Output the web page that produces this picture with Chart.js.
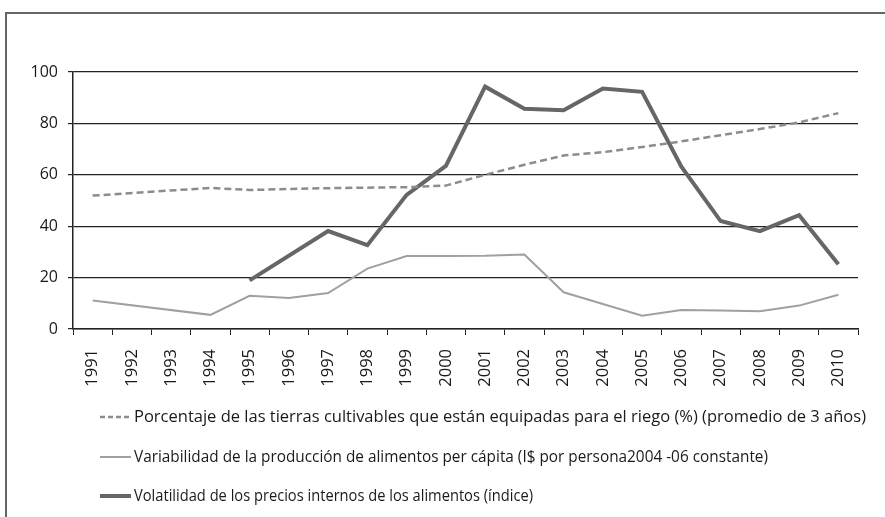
<!DOCTYPE html>
<html>
<head>
<meta charset="utf-8">
<script src="https://cdn.jsdelivr.net/npm/chart.js@4/dist/chart.umd.min.js"></script>
<style>
  body { margin: 0; background: #fff; }
  #marc { position: absolute; left: 5px; top: 12px; width: 900px; height: 520px; border: 2px solid #666; box-sizing: border-box; }
  #caixa { position: absolute; left: 0; top: 0; width: 885px; height: 517px; }
</style>
</head>
<body>
<div id="marc"></div>
<div id="caixa"><canvas id="chart" width="885" height="517"></canvas></div>
<script>
const contingut = document.getElementById("chart");

// Anys (categories de l'eix x)
const anys = ['1991','1992','1993','1994','1995','1996','1997','1998','1999','2000',
              '2001','2002','2003','2004','2005','2006','2007','2008','2009','2010'];

// Percentatge de terres de regadiu (linia discontinua)
const regadiu = [51.9, null, null, 54.9, 54.1, null, 54.8, null, 55.2, 55.8,
                 60, 63.9, 67.5, 68.8, 70.8, 73, 75.4, 77.8, 80.4, 84];

// Variabilitat de la produccio d'aliments
const variabilitat = [11.1, null, null, 5.5, 12.9, 12.1, 14, 23.5, 28.4, 28.4,
                      28.5, 29, 14.3, null, 5.2, 7.4, 7.2, 6.9, 9.1, 13.3];

// Volatilitat dels preus interns
const volatilitat = [null, null, null, null, 18.9, null, 38.1, 32.6, 52.2, 63.5,
                     94.3, 85.7, 85.1, 93.6, 92.3, 63.2, 42, 38.1, 44.3, 25.2];

const etiquetes = [
  'Porcentaje de las tierras cultivables que están equipadas para el riego (%) (promedio de 3 años)',
  'Variabilidad de la producción de alimentos per cápita (I$ por persona2004 -06 constante)',
  'Volatilidad de los precios internos de los alimentos (índice)'
];

const fontFamily = '"Open Sans", sans-serif';

// Llegenda dibuixada a sota del grafic
const llegenda = {
  id: 'llegenda',
  afterDraw(chart) {
    const ctx = chart.ctx;
    const files = [417, 457, 496];
    // el text original es condensat, l'ajustem a l'amplada de cada linia
    const amples = [735, 634, 399];
    ctx.save();
    chart.data.datasets.forEach((ds, i) => {
      const y = files[i];
      ctx.beginPath();
      ctx.strokeStyle = ds.borderColor;
      ctx.lineWidth = ds.borderWidth;
      ctx.setLineDash(ds.borderDash ? [5, 3] : []);
      ctx.moveTo(100, y);
      ctx.lineTo(131, y);
      ctx.stroke();
      ctx.setLineDash([]);
      ctx.fillStyle = '#1a1a1a';
      ctx.font = '16.5px ' + fontFamily;
      ctx.textBaseline = 'middle';
      ctx.fillText(ds.label, 134, y, amples[i]);
    });
    ctx.restore();
  }
};

new Chart(contingut, {
  type: 'line',
  data: {
    labels: anys,
    datasets: [
      {
        label: etiquetes[0],
        data: regadiu,
        borderColor: '#8c8c8c',
        borderWidth: 2.5,
        borderDash: [7, 4],
        pointRadius: 0,
        spanGaps: true
      },
      {
        label: etiquetes[1],
        data: variabilitat,
        borderColor: '#a0a0a0',
        borderWidth: 2,
        pointRadius: 0,
        spanGaps: true
      },
      {
        label: etiquetes[2],
        data: volatilitat,
        borderColor: '#666666',
        borderWidth: 4,
        pointRadius: 0,
        spanGaps: true
      }
    ]
  },
  options: {
    responsive: false,
    animation: false,
    layout: { padding: { left: 0, top: 72, right: 27, bottom: 128 } },
    plugins: { legend: { display: false }, tooltip: { enabled: false } },
    scales: {
      x: {
        offset: true,
        grid: { offset: true, drawOnChartArea: false, tickLength: 6, color: '#222' },
        border: { color: '#222', width: 1.5 },
        ticks: {
          minRotation: 90, maxRotation: 90, padding: 14,
          color: '#1a1a1a', font: { family: fontFamily, size: 16.5 }
        },
        afterFit(scale) { scale.height = 60; }
      },
      y: {
        min: 0, max: 100,
        grid: { color: '#222', lineWidth: 1.2, tickLength: 5 },
        border: { color: '#222', width: 1.5 },
        ticks: {
          stepSize: 20, padding: 10,
          color: '#1a1a1a', font: { family: fontFamily, size: 16 }
        },
        afterFit(scale) { scale.width = 73; }
      }
    }
  },
  plugins: [llegenda]
});
</script>
</body>
</html>
